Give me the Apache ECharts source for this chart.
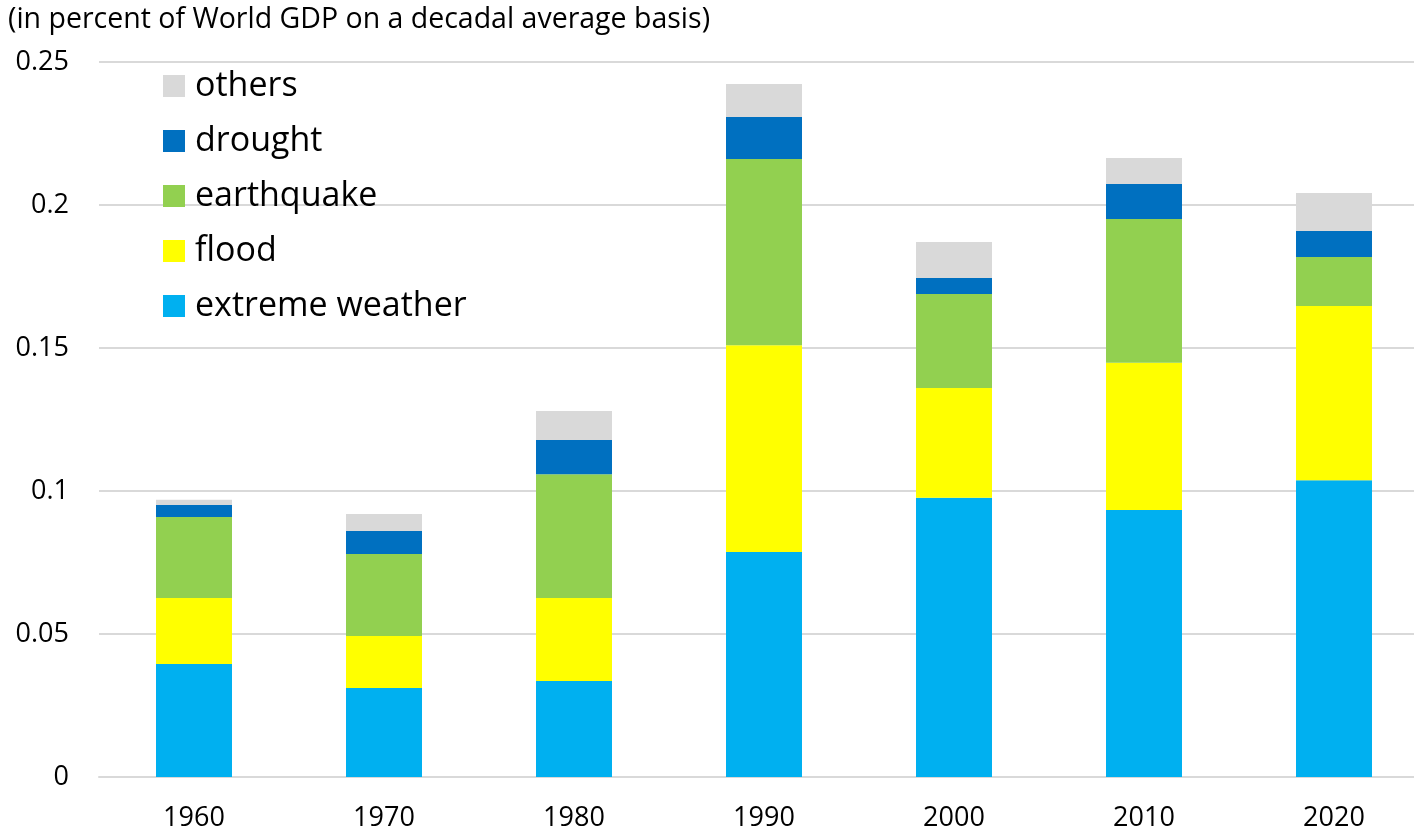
<!DOCTYPE html>
<html>
<head>
<meta charset="utf-8">
<script src="https://cdn.jsdelivr.net/npm/echarts@6/dist/echarts.min.js"></script>
<style>
html, body { margin: 0; padding: 0; background: #fff; overflow: hidden; }
#main { width: 1429px; height: 835px; }
</style>
</head>
<body>
<div id="main"></div>
<script>
var decades = ['1960', '1970', '1980', '1990', '2000', '2010', '2020']
var extremeWeather = [0.0395, 0.0311, 0.0336, 0.0787, 0.0976, 0.0934, 0.1038]
var flood = [0.0231, 0.0182, 0.0290, 0.0723, 0.0384, 0.0514, 0.0609]
var earthquake = [0.0283, 0.0287, 0.0433, 0.0651, 0.0329, 0.0503, 0.0171]
var drought = [0.0042, 0.0080, 0.0119, 0.0147, 0.0056, 0.0122, 0.0091]
var others = [0.0018, 0.0060, 0.0102, 0.0115, 0.0126, 0.0091, 0.0133]

var font = 'Open Sans'

function bar(name, data, color) {
  return {
    name: name,
    type: 'bar',
    stack: 'total',
    data: data,
    barWidth: '40%',
    itemStyle: { color: color },
    emphasis: { disabled: true }
  }
}

// div is a bit wider than the window so the last category runs off the edge like the original
var myChart = echarts.init(document.getElementById('main'))
var option = {
  animation: false,
  textStyle: { fontFamily: font },
  title: {
    text: '(in percent of World GDP on a decadal average basis)',
    left: 8,
    top: 5,
    padding: 0,
    textStyle: { fontFamily: font, fontSize: 28.5, fontWeight: 'normal', color: '#000' }
  },
  legend: {
    orient: 'vertical',
    left: 163,
    top: 69,
    padding: 0,
    itemWidth: 22,
    itemHeight: 22,
    itemGap: 21,
    icon: 'rect',
    data: ['others', 'drought', 'earthquake', 'flood', 'extreme weather'],
    textStyle: { fontFamily: font, fontSize: 34, lineHeight: 34, color: '#000', padding: [0, 0, 0, 5] }
  },
  grid: { left: 99, right: 0, top: 62, bottom: 58 },
  xAxis: {
    type: 'category',
    data: decades,
    axisTick: { show: false },
    axisLine: { lineStyle: { color: '#d9d9d9', width: 2 } },
    axisLabel: { fontFamily: font, fontSize: 27, color: '#000', margin: 28 }
  },
  yAxis: {
    type: 'value',
    min: 0,
    max: 0.25,
    interval: 0.05,
    axisLine: { show: false },
    axisTick: { show: false },
    splitLine: { lineStyle: { color: '#d9d9d9', width: 2 } },
    axisLabel: { fontFamily: font, fontSize: 27, color: '#000', margin: 30 }
  },
  series: [
    bar('extreme weather', extremeWeather, '#00b0f0'),
    bar('flood', flood, '#ffff00'),
    bar('earthquake', earthquake, '#92d050'),
    bar('drought', drought, '#0070c0'),
    bar('others', others, '#d9d9d9')
  ]
}
myChart.setOption(option)
</script>
</body>
</html>
